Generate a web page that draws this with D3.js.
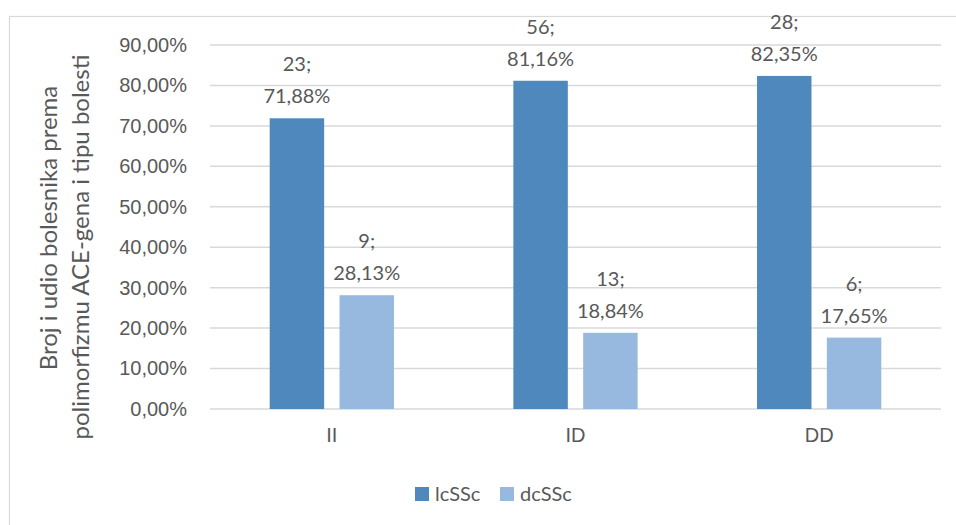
<!DOCTYPE html>
<html>
<head>
<meta charset="utf-8">
<script src="https://cdn.jsdelivr.net/npm/d3@7"></script>
<style>
  body { margin: 0; background: #fff; }
  svg { display: block; font-family: Lato, "Open Sans", sans-serif; }
</style>
</head>
<body>
<svg></svg>
<script>
// data
const categories = ["II", "ID", "DD"];
const seriesNames = ["lcSSc", "dcSSc"];
const lcCounts = [23, 56, 28];
const lcShares = [71.88, 81.16, 82.35];
const dcCounts = [9, 13, 6];
const dcShares = [28.13, 18.84, 17.65];
const yTicks = [0, 10, 20, 30, 40, 50, 60, 70, 80, 90];

const colors = { lcSSc: "#4e88bd", dcSSc: "#97b9e0" };
const textColor = "#595959";
const gridColor = "#d9d9d9";

const W = 956, H = 525;
const margin = { top: 45, right: 15, bottom: 116, left: 210 },
      width = W - margin.left - margin.right,
      height = H - margin.top - margin.bottom;

const root = d3.select("svg").attr("width", W).attr("height", H);

// chart border (runs past right/bottom edge like the reference)
root.append("rect")
    .attr("x", 9.5).attr("y", 16.5)
    .attr("width", 960).attr("height", 520)
    .attr("fill", "none")
    .attr("stroke", gridColor)
    .attr("stroke-width", 1.2);

const svg = root.append("g")
    .attr("transform", `translate(${margin.left},${margin.top})`);

const rows = categories.map((c, i) => ({
    cat: c,
    values: [
        { key: "lcSSc", count: lcCounts[i], share: lcShares[i] },
        { key: "dcSSc", count: dcCounts[i], share: dcShares[i] }
    ]
}));

const x = d3.scaleBand().domain(categories).range([0, width]).padding(0);
const x1 = d3.scaleBand().domain(seriesNames)
    .range([x.bandwidth() * 0.245, x.bandwidth() * 0.755])
    .paddingInner(0.22);
const y = d3.scaleLinear().domain([0, 90]).range([height, 0]);

// gridlines
svg.append("g")
    .selectAll("line")
    .data(yTicks)
    .join("line")
    .attr("x1", 0).attr("x2", width)
    .attr("y1", d => y(d)).attr("y2", d => y(d))
    .attr("stroke", gridColor)
    .attr("stroke-width", 1.5);

// y axis labels
const yAxis = svg.append("g")
    .call(d3.axisLeft(y).tickValues(yTicks).tickSize(0).tickPadding(23)
        .tickFormat(d => d3.format(".2f")(d).replace(".", ",") + "%"));
yAxis.select(".domain").remove();
yAxis.selectAll("text")
    .style("font-size", "20px")
    .attr("fill", textColor);

// x axis labels
const xAxis = svg.append("g")
    .attr("transform", `translate(0,${height})`)
    .call(d3.axisBottom(x).tickSize(0).tickPadding(19));
xAxis.select(".domain").remove();
xAxis.selectAll("text")
    .style("font-size", "20px")
    .attr("fill", textColor);

// bars
const groups = svg.selectAll(".grp")
    .data(rows)
    .join("g")
    .attr("class", "grp")
    .attr("transform", d => `translate(${x(d.cat)},0)`);

groups.selectAll("rect")
    .data(d => d.values)
    .join("rect")
    .attr("x", d => x1(d.key))
    .attr("width", x1.bandwidth())
    .attr("y", d => y(d.share))
    .attr("height", d => height - y(d.share))
    .attr("fill", d => colors[d.key]);

// data labels, two lines each
const fmt = v => v.toFixed(2).replace(".", ",") + "%";
const labels = groups.selectAll(".lbl")
    .data(d => d.values)
    .join("text")
    .attr("class", "lbl")
    .attr("text-anchor", "middle")
    .attr("fill", textColor)
    .style("font-size", "20px");
labels.append("tspan")
    .attr("x", d => x1(d.key) + x1.bandwidth() / 2)
    .attr("y", d => y(d.share) - 47)
    .text(d => d.count + ";");
labels.append("tspan")
    .attr("x", d => x1(d.key) + x1.bandwidth() / 2)
    .attr("y", d => y(d.share) - 15)
    .text(d => fmt(d.share));

// y axis title
const yTitle = root.append("text")
    .attr("transform", "rotate(-90)")
    .attr("text-anchor", "middle")
    .attr("fill", textColor)
    .style("font-size", "24px");
yTitle.append("tspan").attr("x", -228).attr("y", 57).text("Broj i udio bolesnika prema");
yTitle.append("tspan").attr("x", -247).attr("y", 89).text("polimorfizmu ACE-gena i tipu bolesti");

// legend
const legend = root.append("g").attr("transform", "translate(415,487)");
const legendX = [0, 85];
seriesNames.forEach((s, i) => {
    legend.append("rect")
        .attr("x", legendX[i]).attr("y", 0)
        .attr("width", 14).attr("height", 14)
        .attr("fill", colors[s]);
    legend.append("text")
        .attr("x", legendX[i] + 20).attr("y", 14)
        .attr("fill", textColor)
        .style("font-size", "20px")
        .text(s);
});
</script>
</body>
</html>
